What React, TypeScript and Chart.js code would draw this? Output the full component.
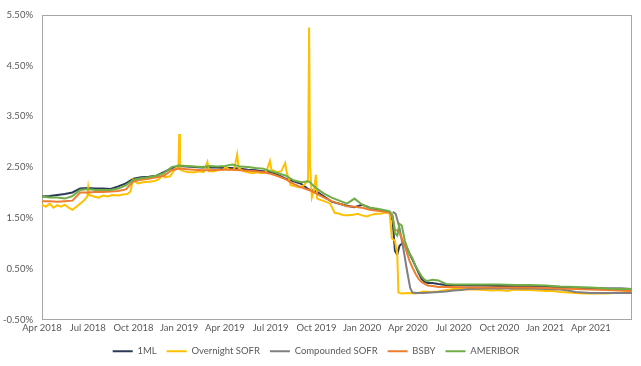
import { useEffect, useRef } from 'react';
import { Chart, registerables } from 'chart.js';

Chart.register(...registerables);

const tickLabels = ['Apr 2018', 'Jul 2018', 'Oct 2018', 'Jan 2019', 'Apr 2019', 'Jul 2019', 'Oct 2019', 'Jan 2020', 'Apr 2020', 'Jul 2020', 'Oct 2020', 'Jan 2021', 'Apr 2021'];

// x = months since Apr 2018
const mainMonths = [0, 0.5, 1, 1.5, 2, 2.5, 3, 3.5, 4, 4.5, 5, 5.5, 6, 6.5, 7, 7.5, 8, 8.5, 9, 9.5, 10, 10.5, 11, 11.5, 12, 12.5, 13, 13.5, 14, 14.5, 15, 15.5, 16, 16.5, 17, 17.5, 18, 18.5, 19, 19.5, 20, 20.5, 21, 21.5, 22, 22.5,
  22.8, 23.0, 23.15, 23.3, 23.45, 23.6, 23.8, 23.95, 24.1, 24.3, 24.5, 24.7, 24.9, 25.1, 25.3, 25.6,
  26, 26.5, 27, 28, 29, 30, 31, 32, 33, 34, 35, 36, 37, 38, 38.7];

const libor1m = [1.92, 1.93, 1.95, 1.97, 2.00, 2.08, 2.09, 2.08, 2.08, 2.07, 2.12, 2.18, 2.27, 2.30, 2.31, 2.33, 2.40, 2.48, 2.52, 2.51, 2.50, 2.49, 2.49, 2.49, 2.48, 2.48, 2.47, 2.45, 2.44, 2.42, 2.40, 2.34, 2.27, 2.22, 2.17, 2.06, 2.02, 1.92, 1.82, 1.78, 1.74, 1.71, 1.76, 1.70, 1.66, 1.63,
  1.62, 1.45, 0.85, 0.78, 0.95, 0.99, 0.98, 0.90, 0.80, 0.68, 0.55, 0.42, 0.30, 0.24, 0.22, 0.22,
  0.20, 0.18, 0.18, 0.17, 0.17, 0.16, 0.16, 0.16, 0.15, 0.13, 0.12, 0.12, 0.11, 0.11, 0.10];

const bsby = [1.83, 1.83, 1.82, 1.83, 1.84, 2.00, 2.00, 2.01, 2.01, 2.02, 2.03, 2.06, 2.22, 2.25, 2.27, 2.30, 2.33, 2.44, 2.47, 2.46, 2.45, 2.44, 2.44, 2.45, 2.45, 2.45, 2.44, 2.43, 2.42, 2.40, 2.37, 2.32, 2.26, 2.17, 2.10, 2.05, 1.98, 1.90, 1.83, 1.78, 1.73, 1.72, 1.70, 1.66, 1.64, 1.62,
  1.60, 1.50, 1.27, 1.25, 1.20, 1.10, 0.95, 0.80, 0.66, 0.52, 0.40, 0.30, 0.24, 0.20, 0.17, 0.16,
  0.14, 0.14, 0.14, 0.13, 0.13, 0.13, 0.13, 0.13, 0.12, 0.11, 0.10, 0.09, 0.08, 0.07, 0.06];

const ameribor = [1.92, 1.90, 1.90, 1.88, 1.93, 2.05, 2.07, 2.05, 2.05, 2.05, 2.08, 2.14, 2.25, 2.28, 2.30, 2.33, 2.38, 2.50, 2.53, 2.52, 2.51, 2.50, 2.52, 2.51, 2.52, 2.55, 2.51, 2.50, 2.48, 2.47, 2.42, 2.38, 2.33, 2.24, 2.20, 2.22, 2.08, 1.98, 1.90, 1.84, 1.78, 1.88, 1.76, 1.70, 1.68, 1.65,
  1.63, 1.55, 1.20, 1.15, 1.38, 1.35, 1.05, 0.92, 0.80, 0.70, 0.55, 0.45, 0.35, 0.28, 0.26, 0.28,
  0.27, 0.20, 0.19, 0.19, 0.19, 0.19, 0.18, 0.18, 0.17, 0.15, 0.14, 0.13, 0.11, 0.10, 0.10];

const sofrMonths = [0.0, 0.25, 0.5, 0.75, 1.0, 1.25, 1.5, 1.75, 2.0, 2.25, 2.5, 2.75, 2.97, 3.03, 3.1, 3.4, 3.7, 4.0, 4.3, 4.6, 5.0, 5.3, 5.6, 5.8, 5.97, 6.05, 6.3, 6.6, 7.0, 7.3, 7.6, 7.97, 8.05, 8.4, 8.7, 8.95, 9.0, 9.05, 9.3, 9.6,
  10.0, 10.3, 10.6, 10.85, 10.95, 11.3, 11.6, 11.9, 12.03, 12.3, 12.6, 12.8, 12.9, 13.2, 13.5, 13.8, 14.1, 14.4, 14.7, 14.95, 15.05, 15.4, 15.7, 15.95, 16.05, 16.3, 16.6, 16.9, 17.2, 17.45, 17.52, 17.58, 17.7, 17.85, 17.97,
  18.05, 18.3, 18.6, 18.9, 19.2, 19.5, 19.8, 20.1, 20.4, 20.7, 21.0, 21.3, 21.6, 21.9, 22.2, 22.5, 22.8, 22.95, 23.15, 23.3, 23.38, 23.6, 24.0, 24.5, 25.0, 25.5, 26.0, 26.5, 27.0, 27.5,
  28.0, 28.5, 29.0, 29.5, 30.0, 30.5, 31.0, 31.5, 32.0, 32.5, 33.0, 33.5, 34.0, 34.5, 35.0, 35.5, 36.0, 36.5, 37.0, 37.5, 38.0, 38.7];

const overnightSofr = [1.76, 1.72, 1.78, 1.70, 1.75, 1.72, 1.76, 1.70, 1.66, 1.72, 1.78, 1.84, 1.92, 2.10, 1.95, 1.92, 1.90, 1.94, 1.92, 1.95, 1.94, 1.96, 1.97, 2.02, 2.25, 2.22, 2.18, 2.20, 2.21, 2.22, 2.25, 2.35, 2.30, 2.32, 2.45, 2.55, 3.15, 2.45, 2.42, 2.40,
  2.40, 2.42, 2.40, 2.60, 2.42, 2.42, 2.44, 2.45, 2.50, 2.45, 2.45, 2.75, 2.48, 2.42, 2.40, 2.38, 2.40, 2.38, 2.40, 2.62, 2.45, 2.40, 2.42, 2.58, 2.40, 2.15, 2.12, 2.10, 2.15, 2.25, 5.25, 2.55, 1.90, 2.05, 2.35,
  1.88, 1.85, 1.82, 1.78, 1.60, 1.58, 1.55, 1.55, 1.56, 1.58, 1.55, 1.53, 1.56, 1.58, 1.58, 1.60, 1.60, 1.10, 1.05, 0.80, 0.03, 0.01, 0.02, 0.01, 0.05, 0.04, 0.05, 0.08, 0.10, 0.10,
  0.09, 0.09, 0.08, 0.07, 0.08, 0.06, 0.09, 0.08, 0.08, 0.07, 0.06, 0.06, 0.04, 0.03, 0.02, 0.01, 0.01, 0.01, 0.01, 0.02, 0.03, 0.05];

const compMonths = [23.0, 23.2, 23.45, 23.7, 23.95, 24.15, 24.3, 24.6, 25, 25.5, 26, 26.5, 27, 27.5, 28, 29, 30, 31, 32, 33, 34, 34.5, 35, 35.5, 36, 37, 38, 38.7];
const compoundedSofr = [1.62, 1.58, 1.30, 0.90, 0.45, 0.12, 0.03, 0.02, 0.02, 0.03, 0.04, 0.05, 0.07, 0.08, 0.10, 0.11, 0.11, 0.11, 0.11, 0.10, 0.09, 0.07, 0.04, 0.03, 0.02, 0.02, 0.02, 0.02];

const seriesNames = ['1ML', 'Overnight SOFR', 'Compounded SOFR', 'BSBY', 'AMERIBOR'];
const seriesColors = ['#2B3A55', '#FFC000', '#7F7F7F', '#ED7D31', '#70AD47'];

const FONT = 'Lato, sans-serif';
const FONT_SIZE = 9.5;

const toPoints = (xs: number[], ys: number[]) => xs.map((x, i) => ({ x, y: ys[i] }));

const boxPlugin = {
  id: 'plotBox',
  beforeDatasetsDraw(chart: any) {
    const { ctx, chartArea } = chart;
    const l = Math.round(chartArea.left) + 0.5;
    const t = Math.round(chartArea.top) + 0.5;
    const r = Math.round(chartArea.right) - 0.5;
    const b = Math.round(chartArea.bottom) - 0.5;
    ctx.save();
    ctx.strokeStyle = '#A6A6A6';
    ctx.lineWidth = 1;
    ctx.strokeRect(l, t, r - l, b - t);
    ctx.restore();
  },
};

export default function App() {
  const ref = useRef<HTMLCanvasElement | null>(null);
  useEffect(() => {
    if (!ref.current) return;
    const xsList = [mainMonths, sofrMonths, compMonths, mainMonths, mainMonths];
    const ysList = [libor1m, overnightSofr, compoundedSofr, bsby, ameribor];
    const datasets = seriesNames.map((name, i) => ({
      label: name,
      data: toPoints(xsList[i], ysList[i]),
      borderColor: seriesColors[i],
      backgroundColor: seriesColors[i],
      borderWidth: 2,
      pointRadius: 0,
      tension: 0,
      order: 5 - i,
    }));
    const chart = new Chart(ref.current, {
      type: 'line',
      data: { datasets },
      plugins: [boxPlugin],
      options: {
        animation: false,
        responsive: true,
        maintainAspectRatio: false,
        layout: { padding: { left: 0, right: 9, top: 11, bottom: 0 } },
        plugins: {
          tooltip: { enabled: false },
          legend: {
            position: 'bottom',
            labels: {
              usePointStyle: true,
              pointStyle: 'line',
              pointStyleWidth: 20,
              boxWidth: 20,
              boxHeight: 10,
              padding: 10,
              color: '#595959',
              font: { family: FONT, size: FONT_SIZE },
              sort: (a: any, b: any) => a.datasetIndex - b.datasetIndex,
            },
          },
        },
        scales: {
          x: {
            type: 'linear',
            min: 0,
            max: 38.7,
            grid: { display: false, drawTicks: false },
            border: { display: false },
            ticks: {
              stepSize: 3,
              autoSkip: false,
              maxRotation: 0,
              includeBounds: false,
              padding: 3,
              color: '#595959',
              font: { family: FONT, size: FONT_SIZE },
              callback: (v: any) => {
                const n = Number(v);
                if (Math.abs(n % 3) > 1e-6) return '';
                return tickLabels[Math.round(n / 3)] ?? '';
              },
            },
            afterFit: (s: any) => { s.height = 17; },
          },
          y: {
            min: -0.5,
            max: 5.5,
            grid: { display: false, drawTicks: false },
            border: { display: false },
            ticks: {
              stepSize: 1,
              padding: 9,
              color: '#595959',
              font: { family: FONT, size: FONT_SIZE },
              callback: (v: any) => Number(v).toFixed(2) + '%',
            },
            afterFit: (s: any) => { s.width = 42; },
          },
        },
      },
    });
    return () => chart.destroy();
  }, []);
  return (
    <div style={{ position: 'fixed', left: 0, top: 0, width: 641, height: 366, background: '#fff' }}>
      <canvas ref={ref} />
    </div>
  );
}
